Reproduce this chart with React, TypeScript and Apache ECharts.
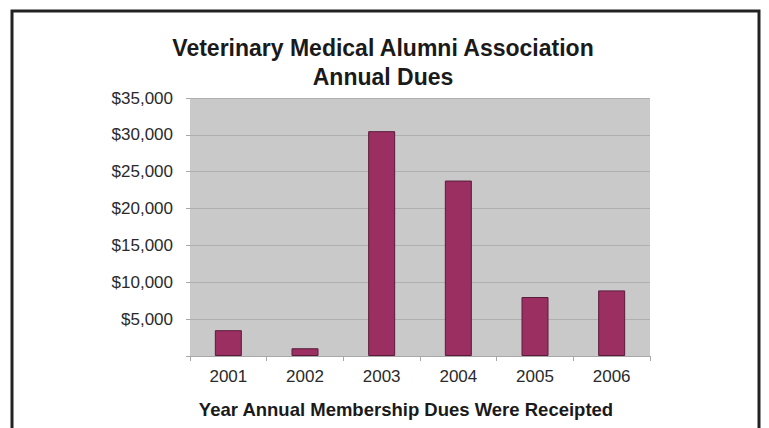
import React, { useEffect, useRef } from "react";
import * as echarts from "echarts";

const categories = ["2001", "2002", "2003", "2004", "2005", "2006"];
const dues = [3500, 1050, 30500, 23800, 8000, 8900];
const yTicks = [0, 5000, 10000, 15000, 20000, 25000, 30000, 35000];

export default function App() {
  const ref = useRef<HTMLDivElement>(null);
  useEffect(() => {
    document.body.style.margin = "0";
    const chart = echarts.init(ref.current!, null, { renderer: "svg" });
    const font = "'Liberation Sans', Arial, sans-serif";
    chart.setOption({
      animation: false,
      backgroundColor: "#ffffff",
      title: {
        text: "Veterinary Medical Alumni Association\nAnnual Dues",
        left: 378,
        top: 28,
        textAlign: "center",
        textStyle: {
          fontFamily: font,
          fontSize: 23,
          fontWeight: "bold",
          color: "#1a1a1a",
          lineHeight: 29,
        },
      },
      grid: { left: 190, right: 119, top: 98, bottom: 72, backgroundColor: "#c9c9c9", show: true, borderWidth: 0 },
      xAxis: {
        type: "category",
        data: categories,
        axisLine: { show: true, lineStyle: { color: "#a8a8a8", width: 1 } },
        axisTick: { show: true, length: 5, lineStyle: { color: "#a8a8a8" } },
        axisLabel: { fontFamily: font, fontSize: 17, color: "#2a2a2a", margin: 12 },
        splitLine: { show: false },
      },
      yAxis: {
        type: "value",
        min: yTicks[0],
        max: yTicks[yTicks.length - 1],
        interval: 5000,
        axisLine: { show: false },
        axisTick: { show: true, length: 4, lineStyle: { color: "#a8a8a8" } },
        axisLabel: {
          fontFamily: font,
          fontSize: 17,
          color: "#2a2a2a",
          margin: 17,
          formatter: (v: number) => (v === 0 ? "" : "$" + v.toLocaleString("en-US")),
        },
        splitLine: { show: true, lineStyle: { color: "#afafaf", width: 1 } },
      },
      graphic: [
        {
          type: "rect",
          shape: { x: 12, y: 11, width: 747, height: 440 },
          style: { fill: "none", stroke: "#222222", lineWidth: 3 },
          silent: true,
        },
        {
          type: "text",
          x: 406,
          y: 400,
          style: {
            text: "Year Annual Membership Dues Were Receipted",
            fontFamily: font,
            fontSize: 18.5,
            fontWeight: "bold",
            fill: "#1a1a1a",
            textAlign: "center",
          },
        },
      ],
      series: [
        {
          type: "bar",
          data: dues,
          barWidth: 27,
          itemStyle: { color: "#9b2f62", borderColor: "#5a1b3b", borderWidth: 1 },
        },
      ],
    });
    return () => chart.dispose();
  }, []);
  return <div ref={ref} style={{ width: 769, height: 428 }} />;
}
